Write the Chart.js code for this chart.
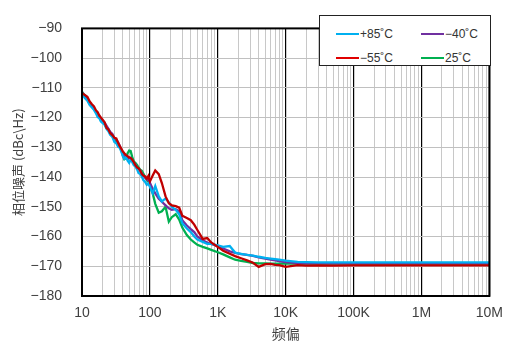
<!DOCTYPE html>
<html>
<head>
<meta charset="utf-8">
<script src="https://cdn.jsdelivr.net/npm/chart.js@4"></script>
<style>
  html, body { margin: 0; padding: 0; background: #fff; }
  #wrap { position: relative; width: 512px; height: 342px; }
  #legend {
    position: absolute; left: 319px; top: 15px; width: 172px; height: 51px;
    border: 1px solid #222; background: #fff; box-sizing: border-box;
    font-family: "Liberation Sans", "Noto Sans", sans-serif; font-size: 12px; color: #333;
  }
  .item { position: absolute; height: 14px; line-height: 14px; white-space: nowrap; }
  .item span.sw { display: inline-block; width: 23px; height: 2px; vertical-align: middle; margin-right: 1px; position: relative; top: -1px; }
</style>
</head>
<body>
<div id="wrap">
  <canvas id="phaseNoise" width="512" height="342"></canvas>
  <div id="legend"></div>
</div>
<script>
// offset frequencies (Hz)
const freqs = [10, 11, 12, 13, 14, 15, 16, 17, 18, 19, 20, 21.5, 23, 24.5, 26, 28, 30, 32, 34, 36, 38, 40, 42, 44.5, 47, 49.5, 52, 55, 58, 61, 65, 68, 72, 76, 80, 85, 90, 95, 100,
  110, 120, 135, 150, 170, 190, 210, 240, 270, 300, 350, 400, 450, 500, 600, 700, 800, 1000,
  1200, 1500, 1800, 2200, 2700, 3300, 4000, 5000, 6000, 7000, 8000, 10000,
  15000, 20000, 30000, 50000, 100000, 300000, 1000000, 3000000, 10000000];

// phase noise (dBc/Hz)
const plus85 = [-111.9, -113.4, -114.3, -115.8, -116.6, -117.4, -118.5, -119.8, -120.2, -121.3, -121.8, -122.4, -123.8, -124.6, -125.8, -126.5, -128.2, -128.6, -129.8, -130.2, -131.5, -133.0, -133.8, -133.2, -134.5, -135.2, -134.0, -135.0, -136.0, -136.4, -137.5, -138.6, -139.0, -139.8, -141.0, -141.6, -142.6, -142.2, -143.3,
  -145.5, -143.0, -146.5, -148.2, -147.2, -148.5, -150.0, -151.0, -152.5, -155.5, -157.3, -158.5, -160.0, -161.0, -161.8, -162.5, -162.5, -163.0,
  -163.5, -163.2, -165.4, -165.8, -166.2, -166.4, -166.8, -167.2, -167.4, -167.6, -167.8, -168.1,
  -168.5, -168.6, -168.7, -168.7, -168.7, -168.7, -168.7, -168.7, -168.7];
const minus40 = [-111.5, -112.8, -114.0, -115.4, -116.3, -117.0, -118.0, -119.2, -119.6, -120.6, -121.0, -121.7, -122.8, -123.8, -124.8, -125.5, -127.0, -127.4, -128.3, -129.5, -130.8, -132.0, -133.3, -133.0, -134.0, -133.4, -133.5, -134.6, -135.3, -135.8, -136.8, -137.2, -137.8, -138.8, -139.5, -140.2, -140.8, -141.1, -141.9,
  -144.0, -145.5, -147.3, -148.3, -149.5, -150.5, -151.0, -150.8, -151.5, -154.5, -156.3, -157.5, -158.5, -160.0, -161.3, -162.0, -162.5, -163.2,
  -164.0, -165.0, -165.5, -165.9, -166.2, -166.5, -167.0, -167.4, -167.8, -168.0, -168.3, -168.6,
  -168.9, -169.0, -169.0, -169.0, -169.0, -169.0, -169.0, -169.0, -169.0];
const minus55 = [-111.8, -112.4, -113.0, -114.6, -115.5, -116.2, -117.5, -118.2, -119.3, -120.0, -120.6, -121.6, -123.5, -124.0, -125.2, -125.9, -126.8, -127.0, -128.5, -129.6, -130.5, -131.4, -132.0, -132.6, -133.0, -133.4, -133.6, -134.2, -135.0, -136.0, -136.8, -137.0, -137.8, -139.0, -139.5, -139.8, -140.5, -139.6, -141.5,
  -139.5, -137.8, -139.0, -142.0, -146.5, -148.8, -149.5, -149.8, -150.3, -153.0, -153.8, -154.5, -156.0, -157.8, -160.8, -160.5, -162.0, -163.5,
  -164.8, -165.8, -166.6, -167.3, -168.0, -168.8, -170.2, -169.3, -169.2, -169.5, -169.6, -170.2,
  -169.6, -169.8, -169.7, -169.8, -169.7, -169.7, -169.7, -169.7, -169.7];
const plus25 = [-111.3, -112.6, -113.8, -115.0, -116.0, -116.9, -117.8, -118.9, -119.5, -120.5, -121.2, -122.0, -123.3, -124.0, -125.2, -126.2, -127.5, -128.1, -129.0, -129.9, -131.0, -132.8, -134.0, -133.6, -132.0, -131.1, -131.2, -133.3, -134.8, -135.2, -136.0, -136.8, -137.5, -137.9, -138.8, -140.0, -141.0, -141.6, -142.8,
  -145.5, -149.0, -152.0, -151.5, -150.0, -155.0, -153.5, -152.5, -154.3, -157.0, -159.5, -161.0, -162.0, -162.8, -163.5, -164.0, -164.5, -165.3,
  -166.0, -167.0, -167.8, -168.2, -168.5, -168.9, -169.0, -169.0, -169.1, -169.1, -169.1, -169.0,
  -169.1, -169.1, -169.1, -169.1, -169.1, -169.1, -169.1, -169.1, -169.1];

const seriesNames = ['+85\u02DAC', '\u221240\u02DAC', '\u221255\u02DAC', '25\u02DAC'];
const seriesColors = ['#00B0F0', '#7030A0', '#C00000', '#00B050'];
const legendColors = ['#00B0F0', '#7030A0', '#E00000', '#00B050'];
const seriesValues = [plus85, minus40, minus55, plus25];

const xTickValues = [10, 100, 1000, 10000, 100000, 1000000, 10000000];
const xTickLabels = ['10', '100', '1K', '10K', '100K', '1M', '10M'];

const tickFont = { family: '"Liberation Sans", "Noto Sans CJK SC", sans-serif', size: 14 };
const tickColor = '#404040';

// draw order: red on top, then blue, purple, green
const drawOrder = [1, 2, 0, 3];
const datasets = seriesValues.map((vals, i) => ({
  label: seriesNames[i],
  data: freqs.map((f, j) => ({ x: f, y: vals[j] })),
  borderColor: seriesColors[i],
  backgroundColor: seriesColors[i],
  borderWidth: 2.3,
  pointRadius: 0,
  tension: 0,
  order: drawOrder[i]
}));

// frame round the plot area
const framePlugin = {
  id: 'frame',
  afterDatasetsDraw(chart) {
    const a = chart.chartArea, ctx = chart.ctx;
    ctx.save();
    ctx.strokeStyle = '#000';
    ctx.lineWidth = 2;
    ctx.strokeRect(a.left, a.top, a.right - a.left, a.bottom - a.top);
    ctx.restore();
  }
};

new Chart(document.getElementById('phaseNoise').getContext('2d'), {
  type: 'line',
  data: { datasets: datasets },
  plugins: [framePlugin],
  options: {
    responsive: false,
    animation: false,
    layout: { padding: { top: 15, right: 20, left: 0, bottom: 0 } },
    plugins: { legend: { display: false }, tooltip: { enabled: false } },
    scales: {
      x: {
        type: 'logarithmic',
        min: 10,
        max: 10000000,
        afterBuildTicks(scale) {
          const t = [];
          for (let k = 0; k < xTickValues.length - 1; k++) {
            for (let m = 1; m < 10; m++) t.push({ value: m * xTickValues[k] });
          }
          t.push({ value: xTickValues[xTickValues.length - 1] });
          scale.ticks = t;
        },
        afterFit(scale) { scale.height = 46; },
        grid: {
          drawTicks: false,
          color: c => xTickValues.includes(c.tick && c.tick.value) ? '#000' : '#c8c8c8',
          lineWidth: c => xTickValues.includes(c.tick && c.tick.value) ? 1.2 : 1
        },
        border: { display: false },
        ticks: {
          autoSkip: false,
          maxRotation: 0,
          padding: 9,
          font: tickFont,
          color: tickColor,
          callback: v => {
            const i = xTickValues.indexOf(v);
            return i >= 0 ? xTickLabels[i] : '';
          }
        },
        title: {
          display: true,
          text: '频偏',
          font: { family: '"Noto Sans CJK SC", sans-serif', size: 14 },
          color: '#404040',
          padding: { top: 0, bottom: 0 }
        }
      },
      y: {
        min: -180,
        max: -90,
        afterFit(scale) { scale.width = 82; },
        grid: { drawTicks: false, color: '#c0c0c0', lineWidth: 1 },
        border: { display: false },
        ticks: {
          stepSize: 10,
          padding: 20,
          font: tickFont,
          color: tickColor,
          callback: v => (v < 0 ? '\u2212' : '') + Math.abs(v)
        },
        title: {
          display: true,
          text: '相位噪声 (dBc\\Hz)',
          font: { family: '"Noto Sans CJK SC", sans-serif', size: 13 },
          color: '#404040',
          padding: { top: 10, bottom: 0 }
        }
      }
    }
  }
});

// legend box, 2 x 2
const legendPos = [[16, 11], [101, 11], [16, 35], [101, 35]];
const legend = document.getElementById('legend');
seriesNames.forEach((name, i) => {
  const d = document.createElement('div');
  d.className = 'item';
  d.style.left = legendPos[i][0] + 'px';
  d.style.top = legendPos[i][1] + 'px';
  d.innerHTML = '<span class="sw" style="background:' + legendColors[i] + '"></span>' + name;
  legend.appendChild(d);
});
</script>
</body>
</html>
